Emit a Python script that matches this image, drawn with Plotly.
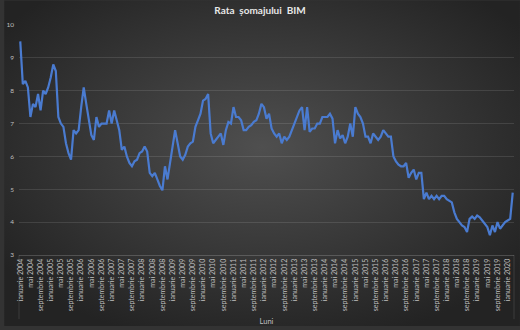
import base64
import plotly.graph_objects as go

month_names = ["ianuarie", "februarie", "martie", "aprilie", "mai", "iunie",
               "iulie", "august", "septembrie", "octombrie", "noiembrie", "decembrie"]
years = list(range(2004, 2021))

rate_2004 = [9.5, 8.2, 8.3, 8.1, 7.2, 7.6, 7.5, 7.9, 7.4, 8.0, 7.9, 8.1]
rate_2005 = [8.4, 8.8, 8.6, 7.2, 7.0, 6.9, 6.4, 6.1, 5.9, 6.8, 6.7, 6.8]
rate_2006 = [7.5, 8.1, 7.6, 7.05, 6.65, 6.5, 7.2, 6.9, 7.0, 7.0, 7.0, 7.4]
rate_2007 = [7.0, 7.4, 7.1, 6.8, 6.2, 6.3, 6.0, 5.8, 5.7, 5.85, 5.9, 6.1]
rate_2008 = [6.15, 6.3, 6.15, 5.5, 5.4, 5.5, 5.3, 5.1, 4.97, 5.7, 5.3, 5.8]
rate_2009 = [6.2, 6.8, 6.4, 6.0, 5.9, 6.05, 6.3, 6.4, 6.45, 6.9, 7.1, 7.3]
rate_2010 = [7.7, 7.75, 7.9, 6.7, 6.4, 6.5, 6.6, 6.7, 6.35, 6.8, 7.05, 7.0]
rate_2011 = [7.5, 7.2, 7.2, 7.1, 6.8, 6.8, 6.9, 6.95, 7.05, 7.1, 7.3, 7.6]
rate_2012 = [7.5, 7.15, 7.3, 6.85, 6.7, 6.6, 6.7, 6.4, 6.6, 6.5, 6.6, 6.8]
rate_2013 = [7.05, 7.2, 7.4, 7.5, 6.8, 7.5, 6.75, 6.85, 6.85, 7.0, 7.0, 7.2]
rate_2014 = [7.2, 7.2, 7.3, 7.15, 6.4, 6.8, 6.55, 6.65, 6.4, 6.6, 7.0, 6.6]
rate_2015 = [7.5, 7.3, 7.2, 7.0, 6.6, 6.6, 6.4, 6.7, 6.6, 6.5, 6.6, 6.8]
rate_2016 = [6.7, 6.6, 6.6, 6.0, 5.85, 5.75, 5.7, 5.7, 5.8, 5.35, 5.5, 5.6]
rate_2017 = [5.3, 5.5, 5.5, 4.7, 4.9, 4.7, 4.8, 4.7, 4.8, 4.7, 4.8, 4.8]
rate_2018 = [4.7, 4.65, 4.6, 4.3, 4.1, 4.0, 3.9, 3.85, 3.7, 4.1, 4.17, 4.1]
rate_2019 = [4.2, 4.15, 4.05, 3.95, 3.85, 3.6, 3.9, 3.7, 4.0, 3.8, 3.9, 4.0]
rate_2020 = [4.05, 4.1, 4.9]

rates = (rate_2004 + rate_2005 + rate_2006 + rate_2007 + rate_2008 + rate_2009 +
         rate_2010 + rate_2011 + rate_2012 + rate_2013 + rate_2014 + rate_2015 +
         rate_2016 + rate_2017 + rate_2018 + rate_2019 + rate_2020)

months = [f"{m} {y}" for y in years for m in month_names][:len(rates)]
tick_labels = months[::4]

title_text = "Rata\u00a0 șomajului\u00a0 BIM"
x_title = "Luni"

W, H = 520, 330
L, R, T, B = 15, 6, 25, 72
pw, ph = W - L - R, H - T - B

svg = (f"<svg xmlns='http://www.w3.org/2000/svg' width='{W}' height='{H}' preserveAspectRatio='none'>"
       "<defs><radialGradient id='g' cx='50%' cy='45%' r='62%'>"
       "<stop offset='0' stop-color='#4f4f4f'/><stop offset='1' stop-color='#232323'/>"
       "</radialGradient></defs>"
       f"<rect width='{W}' height='{H}' fill='url(#g)'/></svg>")
bg_uri = "data:image/svg+xml;base64," + base64.b64encode(svg.encode()).decode()

fig = go.Figure()
fig.add_trace(go.Scatter(
    x=months, y=rates, mode="lines",
    line=dict(color="#4a7bd0", width=2.2),
    hoverinfo="x+y",
))

fig.update_layout(
    width=W, height=H,
    margin=dict(l=L, r=R, t=T, b=B),
    paper_bgcolor="#333333",
    plot_bgcolor="rgba(0,0,0,0)",
    showlegend=False,
    font=dict(family="Lato, Carlito, Liberation Sans, sans-serif", color="#bfbfbf", size=7),
    title=dict(text=f"<b>{title_text}</b>", x=0.5, xanchor="center", y=0.967, yanchor="middle",
               font=dict(size=10, color="#e8e8e8")),
    images=[dict(source=bg_uri, xref="paper", yref="paper",
                 x=-L / pw, y=1 + T / ph, sizex=W / pw, sizey=H / ph,
                 xanchor="left", yanchor="top", sizing="stretch", layer="below")],
    xaxis=dict(
        type="category", tickmode="array", tickvals=tick_labels, ticktext=tick_labels,
        tickangle=-90, showgrid=False, showline=True, linecolor="rgba(255,255,255,0.18)",
        linewidth=1, ticks="", tickfont=dict(size=7, color="#bfbfbf"),
        title=dict(text=x_title, font=dict(size=7.5, color="#bfbfbf"), standoff=8),
        range=[-0.5, len(rates) - 0.5],
    ),
    yaxis=dict(
        range=[3, 10], dtick=1, showgrid=True, gridcolor="rgba(255,255,255,0.11)",
        gridwidth=1, zeroline=False, showline=False, ticks="",
        tickfont=dict(size=6.5, color="#bfbfbf"), ticklabelstandoff=4,
    ),
    shapes=[
        dict(type="line", xref="paper", yref="paper", x0=0, x1=0, y0=0, y1=-65 / ph,
             line=dict(color="rgba(255,255,255,0.12)", width=1)),
        dict(type="line", xref="paper", yref="paper", x0=1, x1=1, y0=0, y1=-65 / ph,
             line=dict(color="rgba(255,255,255,0.12)", width=1)),
    ],
)

fig.write_html("out.html")
